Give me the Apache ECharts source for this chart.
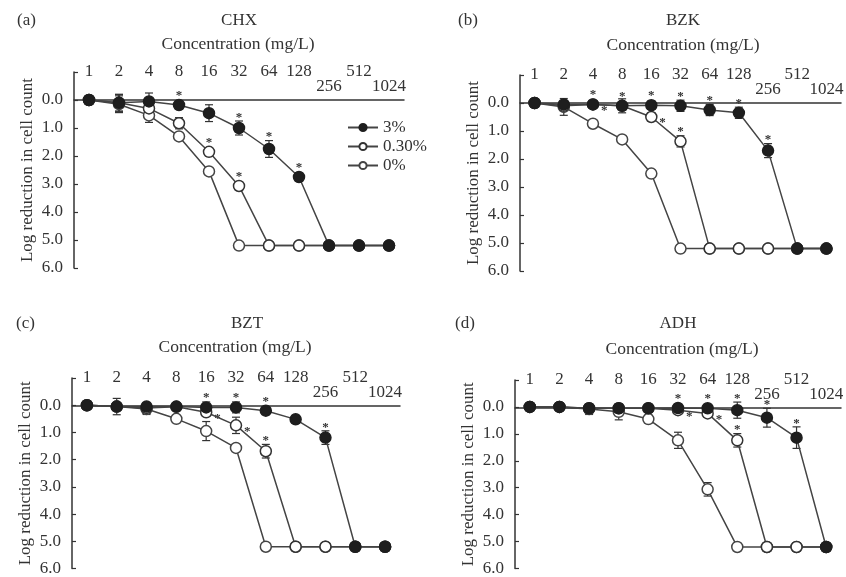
<!DOCTYPE html>
<html>
<head>
<meta charset="utf-8">
<script src="https://cdn.jsdelivr.net/npm/echarts@6/dist/echarts.min.js"></script>
<style>
html,body{margin:0;padding:0;background:#fff;}
#chart{width:846px;height:577px;}
</style>
</head>
<body>
<div id="chart"></div>
<script>
// ---------- data ----------
const concentrations = ['1','2','4','8','16','32','64','128','256','512','1024'];
const lowLabels = ['256','1024'];
const seriesNames = ['3%','0.30%','0%'];
const panelLetters = ['(a)','(b)','(c)','(d)'];
const panelTitles = ['CHX','BZK','BZT','ADH'];
const xAxisTitle = 'Concentration (mg/L)';
const yAxisTitle = 'Log reduction in cell count';

// CHX
const chxHigh = [0, 0.1, 0.05, 0.18, 0.47, 1.0, 1.75, 2.75, 5.2, 5.2, 5.2];
const chxMid  = [0, 0.1, 0.3, 0.83, 1.85, 3.07, 5.2, 5.2, 5.2, 5.2, 5.2];
const chxZero = [0, 0.15, 0.55, 1.3, 2.55, 5.2, 5.2, 5.2, 5.2, 5.2, 5.2];
const chxHighErr = [0.1, 0.3, 0.3, 0.15, 0.3, 0.25, 0.3, 0.15, 0, 0, 0];
const chxMidErr  = [0.1, 0.3, 0.2, 0.2, 0.15, 0.15, 0, 0, 0, 0, 0];
const chxZeroErr = [0.15, 0.3, 0.25, 0.1, 0.1, 0, 0, 0, 0, 0, 0];
const chxHighSig = [0,0,0,1,0,1,1,1,0,0,0];
const chxMidSig  = [0,0,0,0,1,1,0,0,0,0,0];

// BZK
const bzkHigh = [0, 0.05, 0.05, 0.1, 0.08, 0.1, 0.25, 0.35, 1.7, 5.2, 5.2];
const bzkMid  = [0, 0.1, 0.05, 0.1, 0.5, 1.37, 5.2, 5.2, 5.2, 5.2, 5.2];
const bzkZero = [0, 0.14, 0.74, 1.3, 2.52, 5.2, 5.2, 5.2, 5.2, 5.2, 5.2];
const bzkHighErr = [0.05, 0.05, 0.1, 0.1, 0.15, 0.2, 0.2, 0.2, 0.25, 0, 0];
const bzkMidErr  = [0.1, 0.1, 0.1, 0.25, 0.15, 0.2, 0, 0, 0, 0, 0];
const bzkZeroErr = [0.05, 0.3, 0.05, 0.05, 0.05, 0, 0, 0, 0, 0, 0];
const bzkHighSig = [0,0,1,1,1,1,1,1,1,0,0];
const bzkMidSig  = [0,0,2,0,2,1,0,0,0,0,0];

// BZT
const bztHigh = [0, 0.05, 0.05, 0.05, 0.08, 0.08, 0.2, 0.52, 1.19, 5.2, 5.2];
const bztMid  = [0, 0.05, 0.1, 0.06, 0.26, 0.74, 1.69, 5.2, 5.2, 5.2, 5.2];
const bztZero = [0, 0.05, 0.14, 0.5, 0.95, 1.57, 5.2, 5.2, 5.2, 5.2, 5.2];
const bztHighErr = [0.05, 0.1, 0.1, 0.1, 0.2, 0.2, 0.15, 0.15, 0.25, 0, 0];
const bztMidErr  = [0.1, 0.1, 0.2, 0.1, 0.15, 0.3, 0.25, 0, 0, 0, 0];
const bztZeroErr = [0.05, 0.3, 0.2, 0.05, 0.35, 0.05, 0, 0, 0, 0, 0];
const bztHighSig = [0,0,0,0,1,1,1,0,1,0,0];
const bztMidSig  = [0,0,0,0,2,2,1,0,0,0,0];

// ADH
const adhHigh = [0, 0, 0.05, 0.05, 0.05, 0.04, 0.05, 0.12, 0.4, 1.14, 5.2];
const adhMid  = [0, 0, 0.05, 0.05, 0.05, 0.12, 0.24, 1.24, 5.2, 5.2, 5.2];
const adhZero = [0, 0, 0.08, 0.18, 0.45, 1.24, 3.06, 5.2, 5.2, 5.2, 5.2];
const adhHighErr = [0, 0, 0.1, 0.1, 0.1, 0.15, 0.1, 0.3, 0.35, 0.4, 0];
const adhMidErr  = [0, 0, 0.1, 0.1, 0.1, 0.1, 0.15, 0.25, 0, 0, 0];
const adhZeroErr = [0, 0, 0.2, 0.3, 0.15, 0.3, 0.25, 0, 0, 0, 0];
const adhHighSig = [0,0,0,0,0,1,1,1,1,1,0];
const adhMidSig  = [0,0,0,0,0,2,2,1,0,0,0];

const zeros = concentrations.map(() => 0);
const Y_MIN = -1, Y_MAX = 6;

const panels = [
  {high: chxHigh, mid: chxMid, zero: chxZero, highErr: chxHighErr, midErr: chxMidErr, zeroErr: chxZeroErr, highSig: chxHighSig, midSig: chxMidSig},
  {high: bzkHigh, mid: bzkMid, zero: bzkZero, highErr: bzkHighErr, midErr: bzkMidErr, zeroErr: bzkZeroErr, highSig: bzkHighSig, midSig: bzkMidSig},
  {high: bztHigh, mid: bztMid, zero: bztZero, highErr: bztHighErr, midErr: bztMidErr, zeroErr: bztZeroErr, highSig: bztHighSig, midSig: bztMidSig},
  {high: adhHigh, mid: adhMid, zero: adhZero, highErr: adhHighErr, midErr: adhMidErr, zeroErr: adhZeroErr, highSig: adhHighSig, midSig: adhMidSig}
];

// ---------- layout ----------
const FONT = '"Liberation Serif", "DejaVu Serif", serif';
const INK = '#333';
const grids = [
  {left: 74, top: 72, width: 330, height: 196},
  {left: 520, top: 75, width: 330, height: 196},
  {left: 72, top: 378, width: 328, height: 196},
  {left: 515, top: 380, width: 330, height: 195}
];
const titlePos = [
  {letter: [17, 12], name: [239, 12], conc: [238, 35]},
  {letter: [458, 12], name: [683, 12], conc: [683, 36]},
  {letter: [16, 315], name: [247, 315], conc: [235, 338]},
  {letter: [455, 315], name: [678, 315], conc: [682, 340]}
];

const titles = [];
titlePos.forEach((p, i) => {
  titles.push({text: panelLetters[i], left: p.letter[0], top: p.letter[1], padding: 0,
    textStyle: {fontFamily: FONT, fontSize: 17, fontWeight: 'normal', color: INK}});
  titles.push({text: panelTitles[i], left: p.name[0], top: p.name[1], textAlign: 'center', padding: 0,
    textStyle: {fontFamily: FONT, fontSize: 17, fontWeight: 'normal', color: INK}});
  titles.push({text: xAxisTitle, left: p.conc[0], top: p.conc[1], textAlign: 'center', padding: 0,
    textStyle: {fontFamily: FONT, fontSize: 17.5, fontWeight: 'normal', color: INK}});
});

// x axis sits on the zero line of the (inverted) y scale
const xAxes = grids.map((g, i) => ({
  type: 'category', gridIndex: i, position: 'top', data: concentrations, boundaryGap: true,
  offset: -g.height * (0 - Y_MIN) / (Y_MAX - Y_MIN),
  axisLine: {onZero: false, lineStyle: {color: INK, width: 1.5}},
  axisTick: {alignWithLabel: true, inside: false, length: 4, lineStyle: {color: INK, width: 1.2}},
  axisLabel: {interval: 0, margin: 6, fontFamily: FONT, fontSize: 17, color: INK, lineHeight: 15,
    formatter: v => lowLabels.includes(v) ? v : v + '\n\u00a0'},
  splitLine: {show: false}
}));

const yAxes = grids.map((g, i) => ({
  type: 'value', gridIndex: i, min: Y_MIN, max: Y_MAX, interval: 1, inverse: true,
  name: yAxisTitle, nameLocation: 'middle', nameGap: 38, nameRotate: 90,
  nameTextStyle: {fontFamily: FONT, fontSize: 17, color: INK},
  axisLine: {show: true, onZero: false, lineStyle: {color: INK, width: 1.5}},
  axisTick: {show: true, inside: true, length: 4, lineStyle: {color: INK, width: 1.2}},
  axisLabel: {margin: 11, fontFamily: FONT, fontSize: 17, color: INK,
    formatter: v => v < 0 ? '' : v.toFixed(1)},
  splitLine: {show: false}
}));

function errRender(params, api) {
  const x = api.value(0), v = api.value(1), e = api.value(2), s = api.value(3);
  const c = api.coord([x, v]);
  const up = api.coord([x, v - e]);
  const dn = api.coord([x, v + e]);
  const ch = [];
  if (e > 0) {
    const st = {stroke: INK, lineWidth: 1.2};
    ch.push({type: 'line', shape: {x1: c[0], y1: up[1], x2: c[0], y2: dn[1]}, style: st});
    ch.push({type: 'line', shape: {x1: c[0] - 4, y1: up[1], x2: c[0] + 4, y2: up[1]}, style: st});
    ch.push({type: 'line', shape: {x1: c[0] - 4, y1: dn[1], x2: c[0] + 4, y2: dn[1]}, style: st});
  }
  if (s === 1) {
    const yTop = Math.min(up[1], c[1] - 6);
    ch.push({type: 'text', style: {text: '*', x: c[0], y: yTop + 3, align: 'center', verticalAlign: 'bottom',
      font: 'bold 13px ' + FONT, fill: INK}});
  } else if (s === 2) {
    ch.push({type: 'text', style: {text: '*', x: c[0] + 8, y: c[1] + 6, align: 'left', verticalAlign: 'middle',
      font: 'bold 13px ' + FONT, fill: INK}});
  }
  return {type: 'group', children: ch};
}

const styles = {
  '3%': {fill: '#1e1e1e', border: '#1e1e1e'},
  '0.30%': {fill: '#ffffff', border: '#333'},
  '0%': {fill: '#ffffff', border: '#444'}
};

const series = [];
panels.forEach((p, i) => {
  const defs = [
    {name: '0%', vals: p.zero, err: p.zeroErr, sig: zeros},
    {name: '0.30%', vals: p.mid, err: p.midErr, sig: p.midSig},
    {name: '3%', vals: p.high, err: p.highErr, sig: p.highSig}
  ];
  defs.forEach(d => {
    series.push({
      type: 'custom', name: d.name + ' err', xAxisIndex: i, yAxisIndex: i, z: 2, silent: true,
      clip: false, renderItem: errRender, encode: {x: 0, y: 1},
      data: d.vals.map((v, k) => [k, v, d.err[k], d.sig[k]])
    });
  });
  defs.forEach(d => {
    series.push({
      type: 'line', name: d.name, xAxisIndex: i, yAxisIndex: i, z: 3,
      data: d.vals, symbol: 'circle', symbolSize: 11, showAllSymbol: true,
      lineStyle: {color: '#444', width: 1.5},
      itemStyle: {color: styles[d.name].fill, borderColor: styles[d.name].border, borderWidth: 1.5},
      emphasis: {disabled: true}
    });
  });
});

const chart = echarts.init(document.getElementById('chart'), null, {renderer: 'canvas'});
chart.setOption({
  backgroundColor: '#ffffff',
  animation: false,
  title: titles,
  legend: {
    data: seriesNames, orient: 'vertical', left: 347, top: 119, padding: 0,
    itemWidth: 30, itemHeight: 9, itemGap: 2,
    textStyle: {fontFamily: FONT, fontSize: 17, color: INK}
  },
  grid: grids,
  xAxis: xAxes,
  yAxis: yAxes,
  series: series
});
</script>
</body>
</html>
